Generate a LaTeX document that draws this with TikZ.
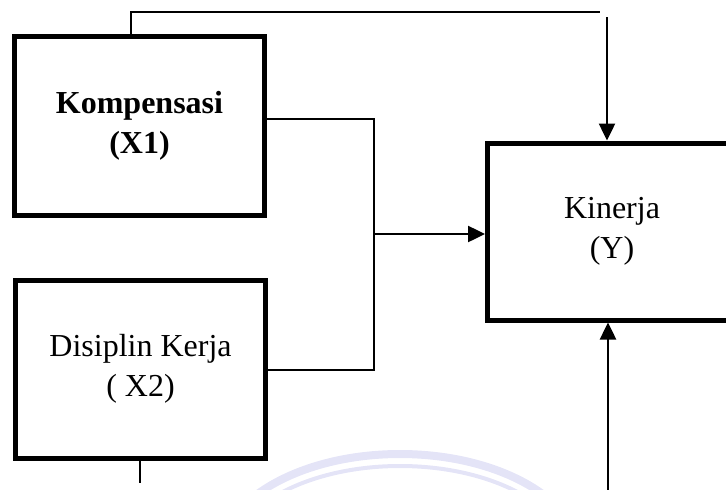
\documentclass[tikz,border=0pt]{standalone}
\usepackage{fontspec}
\setmainfont{Liberation Serif}
\usetikzlibrary{arrows.meta}
\definecolor{wm}{RGB}{228,228,247}
\begin{document}
\begin{tikzpicture}[x=1pt,y=-1pt,
  box/.style={draw,line width=5pt,rectangle,inner sep=0pt,align=center,
    font=\fontsize{32}{40}\selectfont},
  conn/.style={draw,line width=2pt},
  arr/.style={draw,line width=2.5pt,-{Triangle[length=17pt,width=16pt]}},
  wmark/.style={draw=wm}]
\useasboundingbox (0,0) rectangle (726,490);
% faint watermark arcs
\begin{scope}
\clip (0,0) rectangle (726,490);
\draw[wmark,line width=8pt] (400,560) ellipse [x radius=182pt,y radius=106pt];
\draw[wmark,line width=4pt] (400,560) ellipse [x radius=170pt,y radius=94pt];
\end{scope}
\node[box,minimum width=250pt,minimum height=179pt] (x1) at (139.5,126) {\textbf{Kompensasi}\\\textbf{(X1)}};
\node[box,minimum width=250pt,minimum height=178pt] (x2) at (140.5,369) {Disiplin Kerja\\( X2)};
\node[box,minimum width=249pt,minimum height=177pt] (y) at (612,231.5) {Kinerja\\(Y)};
% top connector
\coordinate (tl) at (131,12);
\coordinate (tr) at (600,12);
\coordinate (tv) at (607,17);
\draw[conn] (x1.north -| tl) -- (tl) -- (tr);
\draw[arr] (tv) -- (y.north -| tv);
% middle junction
\coordinate (j1) at (374,119);
\coordinate (j2) at (374,370);
\coordinate (jm) at (374,234);
\draw[conn] (x1.east |- j1) -- (j1) -- (j2) -- (x2.east |- j2);
\draw[arr] (jm) -- (y.west |- jm);
% bottom lines
\coordinate (b1) at (140,483);
\draw[conn] (x2.south -| b1) -- (b1);
\coordinate (b2) at (608,490);
\draw[arr] (b2) -- (y.south -| b2);
\end{tikzpicture}
\end{document}
